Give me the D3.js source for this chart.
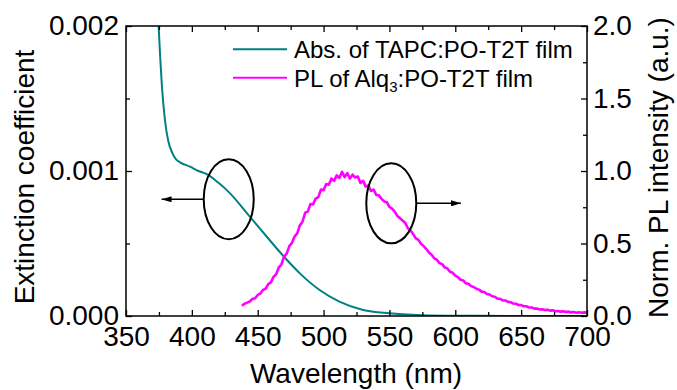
<!DOCTYPE html>
<html>
<head>
<meta charset="utf-8">
<script src="https://cdn.jsdelivr.net/npm/d3@7/dist/d3.min.js"></script>
<style>
  html, body { margin: 0; padding: 0; background: #fff; }
  svg { display: block; }
  text { font-family: "Liberation Sans", Arial, Helvetica, sans-serif; fill: #000; }
</style>
</head>
<body>
<svg id="chart" width="677" height="390"></svg>
<script>
// Absorption (extinction coefficient) of the TAPC:PO-T2T film
const absWavelength = [368, 372, 374.5, 375.8, 377.3, 379.6, 382, 385.4, 388, 391, 398.6, 405, 411, 420,
  429, 444, 459, 471, 482, 497, 512, 530, 550, 575, 600, 650, 700];
const absCoefficient = [0.0029, 0.0024, 0.00205, 0.00181, 0.00158, 0.00135, 0.00121, 0.00112, 0.00108,
  0.00106, 0.00103, 0.00100, 0.00098, 0.00092, 0.000846, 0.000685, 0.000524, 0.000398, 0.000294,
  0.000179, 0.0000986, 0.0000414, 0.0000186, 0.000006, 0.000002, 0.0000005, 0];

// Normalised PL spectrum of the Alq3:PO-T2T film
const plWavelength = [438, 440, 442, 444, 446, 448, 450, 452, 454, 456, 458, 460, 462, 464, 466, 468, 470,
  472, 474, 476, 478, 480, 482, 484, 486, 488, 490, 492, 494, 496, 498, 500, 502, 504, 506, 508, 510,
  512, 514, 516, 518, 520, 522, 524, 526, 528, 530, 532, 534, 536, 538, 540, 542, 544, 546, 548, 550,
  552, 554, 556, 558, 560, 562, 564, 566, 568, 570, 572, 574, 576, 578, 580, 582, 584, 586, 588, 590,
  592, 594, 596, 598, 600, 602, 604, 606, 608, 610, 612, 614, 616, 618, 620, 622, 624, 626, 628, 630,
  632, 634, 636, 638, 640, 642, 644, 646, 648, 650, 652, 654, 656, 658, 660, 662, 664, 666, 668, 670,
  672, 674, 676, 678, 680, 682, 684, 686, 688, 690, 692, 694, 696, 698, 700];
const plIntensity = [0.07, 0.085, 0.092, 0.1, 0.118, 0.122, 0.145, 0.155, 0.18, 0.188, 0.22, 0.232, 0.27,
  0.288, 0.335, 0.355, 0.41, 0.43, 0.482, 0.505, 0.548, 0.57, 0.625, 0.65, 0.712, 0.72, 0.772, 0.77,
  0.81, 0.82, 0.872, 0.868, 0.91, 0.905, 0.948, 0.932, 0.97, 0.952, 0.995, 0.958, 0.985, 0.948, 0.975,
  0.955, 0.962, 0.918, 0.932, 0.892, 0.9, 0.862, 0.872, 0.835, 0.832, 0.808, 0.79, 0.785, 0.752, 0.74,
  0.72, 0.69, 0.675, 0.658, 0.642, 0.605, 0.59, 0.565, 0.535, 0.525, 0.498, 0.482, 0.462, 0.438, 0.422,
  0.398, 0.388, 0.365, 0.358, 0.335, 0.328, 0.305, 0.298, 0.278, 0.268, 0.25, 0.245, 0.225, 0.222,
  0.206, 0.2, 0.188, 0.182, 0.168, 0.166, 0.152, 0.148, 0.136, 0.133, 0.12, 0.119, 0.108, 0.107, 0.097,
  0.096, 0.086, 0.085, 0.076, 0.075, 0.067, 0.067, 0.059, 0.059, 0.051, 0.052, 0.045, 0.047, 0.041,
  0.043, 0.037, 0.039, 0.033, 0.035, 0.03, 0.032, 0.027, 0.03, 0.025, 0.028, 0.023, 0.026, 0.022,
  0.025, 0.022];

// Axes ticks
const xMajorTicks = [350, 400, 450, 500, 550, 600, 650, 700];
const xMinorTicks = [375, 425, 475, 525, 575, 625, 675];
const yLeftMajorTicks = [0, 0.001, 0.002];
const yLeftMinorTicks = [0.0005, 0.0015];
const yRightMajorTicks = [0, 0.5, 1.0, 1.5, 2.0];
const yRightMinorTicks = [0.25, 0.75, 1.25, 1.75];

// Legend entries
const legendLabels = ["Abs. of TAPC:PO-T2T film", "PL of Alq", "3", ":PO-T2T film"];

// Annotation ellipses: centre in data units, arrow pointing to the matching axis
const leftMarker = { wavelength: 428, value: 0.000805, arrowTo: 377 };
const rightMarker = { wavelength: 551.4, value: 0.777, arrowTo: 604.3 };

const W = 677, H = 390;
const margin = { top: 26, right: 90, bottom: 74, left: 126 };
const iw = W - margin.left - margin.right;   // 461
const ih = H - margin.top - margin.bottom;   // 290

const TEAL = "#008080", MAGENTA = "#ff00ff";

const svg = d3.select("#chart");
const g = svg.append("g").attr("transform", `translate(${margin.left},${margin.top})`);

const x = d3.scaleLinear().domain([350, 700]).range([0, iw]);
const yL = d3.scaleLinear().domain([0, 0.002]).range([ih, 0]);
const yR = d3.scaleLinear().domain([0, 2.0]).range([ih, 0]);

svg.append("defs").append("clipPath").attr("id", "plot-clip")
  .append("rect").attr("width", iw).attr("height", ih);

// Data lines
const plot = g.append("g").attr("clip-path", "url(#plot-clip)");

const absData = absWavelength.map((w, i) => [w, absCoefficient[i]]);
const plData = plWavelength.map((w, i) => [w, plIntensity[i]]);

plot.append("path")
  .datum(absData)
  .attr("fill", "none")
  .attr("stroke", TEAL)
  .attr("stroke-width", 2)
  .attr("d", d3.line().x(d => x(d[0])).y(d => yL(d[1])).curve(d3.curveMonotoneX));

plot.append("path")
  .datum(plData)
  .attr("fill", "none")
  .attr("stroke", MAGENTA)
  .attr("stroke-width", 2.6)
  .attr("stroke-linejoin", "round")
  .attr("d", d3.line().x(d => x(d[0])).y(d => yR(d[1])));

// Axes with inward ticks
const fontSize = 28;
function styleAxis(sel) {
  sel.select(".domain").remove();
  sel.selectAll(".tick line").attr("stroke", "#000").attr("stroke-width", 1.3);
  sel.selectAll("text").attr("font-size", fontSize)
    .attr("font-family", "'Liberation Sans', Arial, sans-serif").attr("fill", "#000");
}

// bottom
g.append("g").attr("transform", `translate(0,${ih})`)
  .call(d3.axisBottom(x).tickValues(xMajorTicks).tickSizeInner(-6).tickSizeOuter(0).tickPadding(0)
    .tickFormat(d3.format("d")))
  .call(styleAxis)
  .call(s => s.selectAll("text").attr("dy", 0).attr("y", 30));
g.append("g").attr("transform", `translate(0,${ih})`)
  .call(d3.axisBottom(x).tickValues(xMinorTicks).tickSizeInner(-4).tickSizeOuter(0).tickFormat(""))
  .call(styleAxis);

// top
g.append("g")
  .call(d3.axisTop(x).tickValues(xMajorTicks).tickSizeInner(-6).tickSizeOuter(0).tickFormat(""))
  .call(styleAxis);
g.append("g")
  .call(d3.axisTop(x).tickValues(xMinorTicks).tickSizeInner(-4).tickSizeOuter(0).tickFormat(""))
  .call(styleAxis);

// left
g.append("g")
  .call(d3.axisLeft(yL).tickValues(yLeftMajorTicks).tickSizeInner(-6).tickSizeOuter(0).tickPadding(7)
    .tickFormat(d3.format(".3f")))
  .call(styleAxis);
g.append("g")
  .call(d3.axisLeft(yL).tickValues(yLeftMinorTicks).tickSizeInner(-4).tickSizeOuter(0).tickFormat(""))
  .call(styleAxis);

// right
g.append("g").attr("transform", `translate(${iw},0)`)
  .call(d3.axisRight(yR).tickValues(yRightMajorTicks).tickSizeInner(-6).tickSizeOuter(0).tickPadding(6)
    .tickFormat(d3.format(".1f")))
  .call(styleAxis);
g.append("g").attr("transform", `translate(${iw},0)`)
  .call(d3.axisRight(yR).tickValues(yRightMinorTicks).tickSizeInner(-4).tickSizeOuter(0).tickFormat(""))
  .call(styleAxis);

// frame
g.append("rect").attr("width", iw).attr("height", ih)
  .attr("fill", "none").attr("stroke", "#000").attr("stroke-width", 1.5);

// Axis titles
svg.append("text")
  .attr("x", margin.left + iw / 2 - 0.5).attr("y", 383)
  .attr("text-anchor", "middle").attr("font-size", fontSize)
  .text("Wavelength (nm)");

svg.append("text")
  .attr("transform", "translate(33.5,177) rotate(-90)")
  .attr("text-anchor", "middle").attr("font-size", fontSize)
  .text("Extinction coefficient");

svg.append("text")
  .attr("transform", "translate(668,167.5) rotate(-90)")
  .attr("text-anchor", "middle").attr("font-size", fontSize)
  .text("Norm. PL intensity (a.u.)");

// Legend
const legend = svg.append("g");
const legendFont = 24;
legend.append("line").attr("x1", 233).attr("x2", 287).attr("y1", 49.3).attr("y2", 49.3)
  .attr("stroke", TEAL).attr("stroke-width", 2);
legend.append("text").attr("x", 294).attr("y", 58.3).attr("font-size", legendFont)
  .text(legendLabels[0]);
legend.append("line").attr("x1", 233).attr("x2", 287).attr("y1", 77.7).attr("y2", 77.7)
  .attr("stroke", MAGENTA).attr("stroke-width", 2);
const plLabel = legend.append("text").attr("x", 294).attr("y", 86.7).attr("font-size", legendFont);
plLabel.append("tspan").text(legendLabels[1]);
plLabel.append("tspan").attr("font-size", 15).attr("dy", 5).text(legendLabels[2]);
plLabel.append("tspan").attr("dy", -5).text(legendLabels[3]);

// Annotation ellipses with arrows
svg.append("defs").append("marker")
  .attr("id", "arrowhead").attr("viewBox", "0 0 10 6")
  .attr("refX", 10).attr("refY", 3)
  .attr("markerWidth", 10).attr("markerHeight", 6)
  .attr("markerUnits", "userSpaceOnUse").attr("orient", "auto")
  .append("path").attr("d", "M0,0 L10,3 L0,6 Z").attr("fill", "#000");

const rx = 25, ry = 40;
function marker(m, yScale, side) {
  const cx = x(m.wavelength), cy = yScale(m.value);
  g.append("ellipse").attr("cx", cx).attr("cy", cy).attr("rx", rx).attr("ry", ry)
    .attr("fill", "none").attr("stroke", "#000").attr("stroke-width", 2);
  g.append("line")
    .attr("x1", cx + side * rx).attr("y1", cy)
    .attr("x2", x(m.arrowTo)).attr("y2", cy)
    .attr("stroke", "#000").attr("stroke-width", 1.5)
    .attr("marker-end", "url(#arrowhead)");
}
marker(leftMarker, yL, -1);
marker(rightMarker, yR, 1);
</script>
</body>
</html>
